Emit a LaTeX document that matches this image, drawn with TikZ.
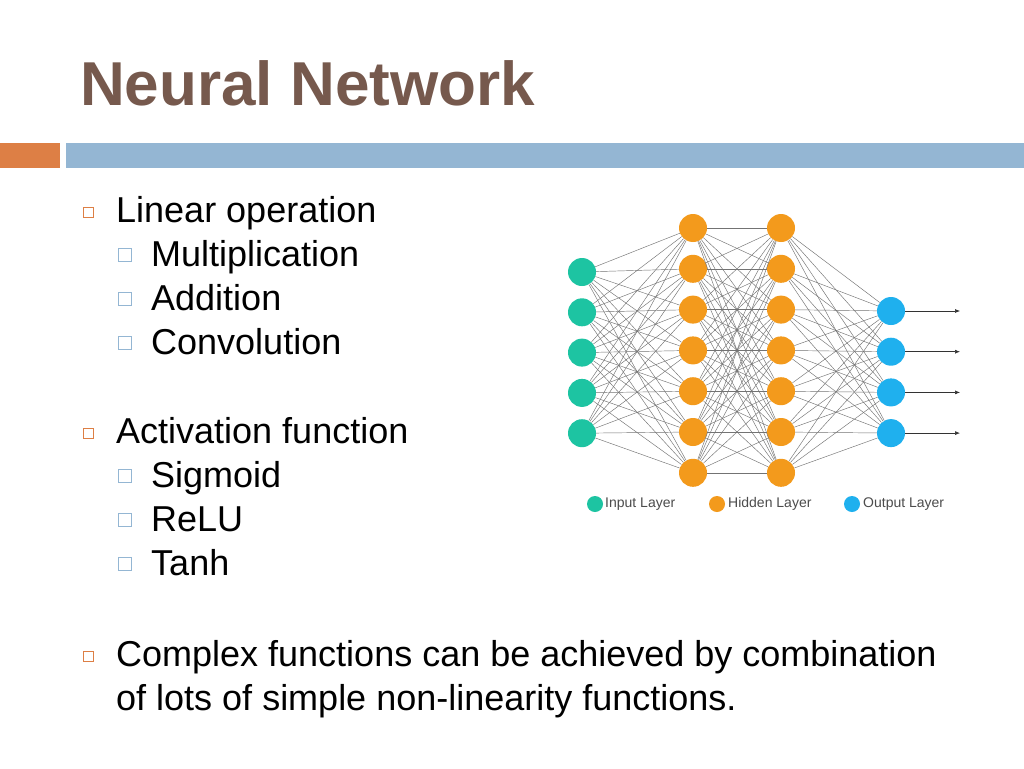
\documentclass[tikz,border=0pt]{standalone}
\usepackage{fontspec}
\setmainfont{Liberation Sans}
\usetikzlibrary{arrows.meta}
\definecolor{ttl}{HTML}{76594D}
\definecolor{org}{HTML}{DD7F45}
\definecolor{blu}{HTML}{94B6D3}
\definecolor{inp}{HTML}{1DC4A2}
\definecolor{hid}{HTML}{F39A1C}
\definecolor{outc}{HTML}{1FB0EE}
\begin{document}
\begin{tikzpicture}[x=1pt,y=-1pt,
  txt/.style={anchor=base west,inner sep=0pt,font=\fontsize{36}{43}\selectfont},
  b1/.style={draw=org,line width=0.8pt,minimum size=10pt,inner sep=0pt},
  b2/.style={draw=blu,line width=0.8pt,minimum size=13pt,inner sep=0pt},
  neu/.style={circle,minimum size=28pt,inner sep=0pt},
  leg/.style={circle,minimum size=16pt,inner sep=0pt},
  lt/.style={anchor=west,inner sep=0pt,font=\fontsize{14}{16}\selectfont,text=black!70},
  edge/.style={draw=black!55,line width=0.45pt}]
\useasboundingbox (0,0) rectangle (1024,768);
\fill[white] (0,0) rectangle (1024,768);
\node[anchor=base west,inner sep=0pt,text=ttl,font=\bfseries\fontsize{62}{70}\selectfont] (title) at (80,105) {Neural Network};
\fill[org] (0,143) rectangle (60,168);
\fill[blu] (66,143) rectangle (1024,168);
% bullets
\node[b1] (s1) at (88,212) {}; \node[txt] (t1) at (116,222) {Linear operation};
\node[b2] (s2) at (125,255) {}; \node[txt] (t2) at (151,266) {Multiplication};
\node[b2] (s3) at (125,299) {}; \node[txt] (t3) at (151,310) {Addition};
\node[b2] (s4) at (125,343) {}; \node[txt] (t4) at (151,354) {Convolution};
\node[b1] (s5) at (88,433) {}; \node[txt] (t5) at (116,443) {Activation function};
\node[b2] (s6) at (125,476) {}; \node[txt] (t6) at (151,487) {Sigmoid};
\node[b2] (s7) at (125,520) {}; \node[txt] (t7) at (151,531) {ReLU};
\node[b2] (s8) at (125,564) {}; \node[txt] (t8) at (151,575) {Tanh};
\node[b1] (s9) at (88,656) {}; \node[txt] (t9) at (116,666) {Complex functions can be achieved by combination};
\node[txt] (t10) at (116,710) {of lots of simple non-linearity functions.};
% network
\foreach \i in {1,...,5} \node[neu,fill=inp] (a\i) at (582,{272+40.3*(\i-1)}) {};
\foreach \i in {1,...,7} \node[neu,fill=hid] (b\i) at (693,{228+40.8*(\i-1)}) {};
\foreach \i in {1,...,7} \node[neu,fill=hid] (c\i) at (781,{228+40.8*(\i-1)}) {};
\foreach \i in {1,...,4} \node[neu,fill=outc] (d\i) at (891,{311+40.7*(\i-1)}) {};
\begin{scope}[on background layer/.style={}]
\foreach \i in {1,...,5} \foreach \j in {1,...,7} \path[edge] (a\i) -- (b\j);
\foreach \i in {1,...,7} \foreach \j in {1,...,7} \path[edge] (b\i) -- (c\j);
\foreach \i in {1,...,7} \foreach \j in {1,...,4} \path[edge] (c\i) -- (d\j);
\end{scope}
\foreach \i in {1,...,4} {
  \coordinate (e\i) at (960,{311+40.7*(\i-1)});
  \draw[black!80,line width=0.6pt,-{Latex[length=5pt,width=4pt]}] (d\i) -- (e\i);
}
% legend
\node[leg,fill=inp] (l1) at (595,504) {}; \node[lt] (lt1) at (605,504) {Input Layer};
\node[leg,fill=hid] (l2) at (717,504) {}; \node[lt] (lt2) at (728,504) {Hidden Layer};
\node[leg,fill=outc] (l3) at (852,504) {}; \node[lt] (lt3) at (863,504) {Output Layer};
\end{tikzpicture}
\end{document}
